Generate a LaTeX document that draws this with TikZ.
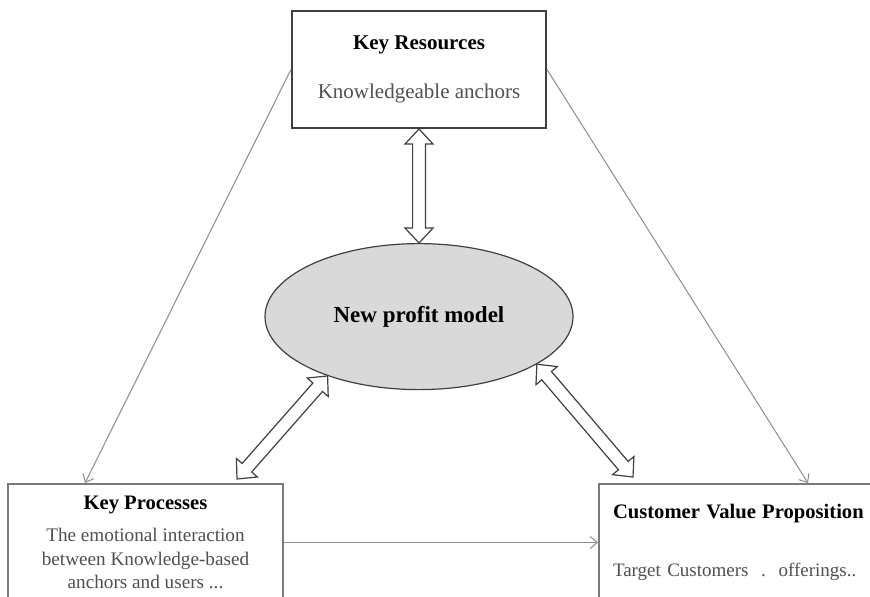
\documentclass[tikz,border=0pt]{standalone}
\usepackage{fontspec}
\setmainfont{Liberation Serif}
\usetikzlibrary{arrows.meta, positioning, shapes.geometric, calc}
\definecolor{FrameDark}{HTML}{404040}
\definecolor{FrameGray}{HTML}{7A7A7A}
\definecolor{LinkGray}{HTML}{8C8C8C}
\definecolor{BodyGray}{HTML}{505050}
\definecolor{ModelFill}{HTML}{D9D9D9}

% outlined two-headed block arrow between two points
\newcommand{\twowayarrow}[2]{%
  \draw[twoway] (#1)
    -- ($(#1)!7.5pt!(#2)!7pt!90:(#2)$)
    -- ($(#1)!7.5pt!(#2)!3.2pt!90:(#2)$)
    -- ($(#2)!7.5pt!(#1)!3.2pt!-90:(#1)$)
    -- ($(#2)!7.5pt!(#1)!7pt!-90:(#1)$)
    -- (#2)
    -- ($(#2)!7.5pt!(#1)!7pt!90:(#1)$)
    -- ($(#2)!7.5pt!(#1)!3.2pt!90:(#1)$)
    -- ($(#1)!7.5pt!(#2)!3.2pt!-90:(#2)$)
    -- ($(#1)!7.5pt!(#2)!7pt!-90:(#2)$)
    -- cycle;}

\begin{document}
\begin{tikzpicture}[x=0.5pt, y=-0.5pt,
    box/.style={rectangle, draw=FrameGray, line width=1pt, fill=white, align=center, inner sep=0pt, minimum height=58.5pt},
    title/.style={font=\fontsize{10.5}{12.5}\selectfont},
    hub/.style={ellipse, draw=FrameDark, line width=0.6pt, fill=ModelFill, minimum width=154pt, minimum height=73pt, inner sep=0pt, font=\fontsize{11.5}{13}\selectfont\bfseries},
    link/.style={draw=LinkGray, line width=0.5pt, -{Straight Barb[length=3.5pt, width=6pt]}},
    twoway/.style={draw=FrameDark, line width=0.6pt, fill=white, line join=miter}
  ]
  \useasboundingbox (0,0) rectangle (870,596);

  \node[box, title, draw=FrameDark, minimum width=127pt] (res) at (419,69.5)
    {\textbf{Key Resources}\\[12pt]{\color{BodyGray}Knowledgeable anchors}};
  \node[hub, below=57pt of res] (model) {New profit model};
  \node[box, anchor=north west, minimum width=137.5pt, font=\fontsize{9.6}{11.75}\selectfont] (proc) at (7,483)
    {{\fontsize{10.3}{12}\selectfont\bfseries Key Processes}\\[4.5pt]
     {\color{BodyGray}The emotional interaction}\\
     {\color{BodyGray}between Knowledge-based}\\
     {\color{BodyGray}anchors and users ...}};
  \node[box, anchor=north west, align=left, text width=140pt, inner xsep=7pt, font=\fontsize{9.5}{12}\selectfont] (cvp) at (598,483)
    {{\fontsize{10.3}{12}\selectfont\bfseries Customer Value Proposition}\\[17pt]
     {\color{BodyGray}Target Customers \ .\ \ offerings..}};

  \coordinate (procin) at ([xshift=-30.25pt]proc.north);
  \coordinate (cvpin) at ([xshift=105pt]cvp.north west);
  \coordinate (procjoin) at ([xshift=45.75pt, yshift=2pt]proc.north);
  \coordinate (cvpjoin) at ([xshift=17.5pt, yshift=3pt]cvp.north west);

  \draw[link] (res.west) -- (procin);
  \draw[link] (res.east) -- (cvpin);
  \draw[link] (proc.east) -- (cvp.west);

  \twowayarrow{res.south}{model.north}
  \twowayarrow{model.213}{procjoin}
  \twowayarrow{model.338}{cvpjoin}
\end{tikzpicture}
\end{document}
